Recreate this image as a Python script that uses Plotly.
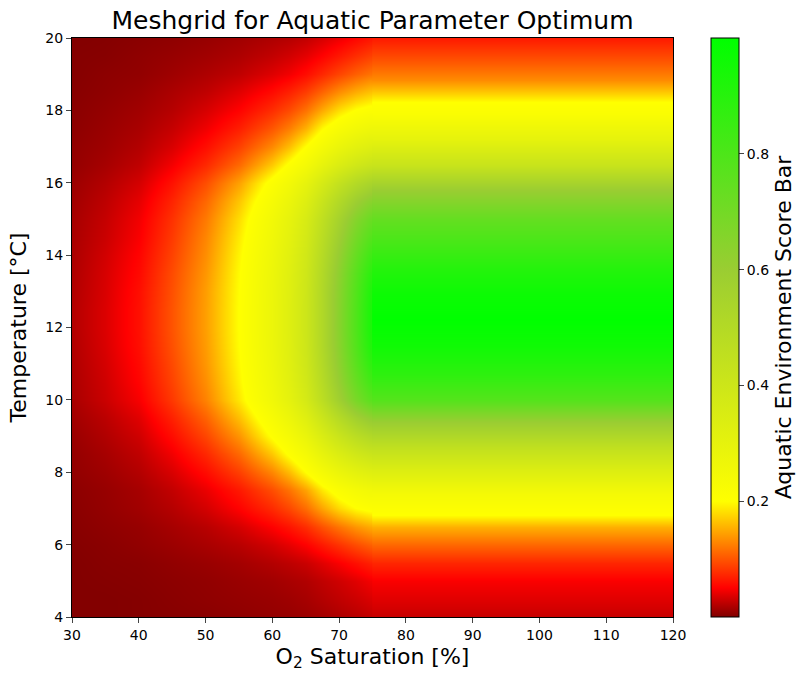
import numpy as np
import plotly.graph_objects as go

# Temperature profile for O2 >= 75 %
t_right = [4, 4.5, 5, 5.5, 6, 6.5, 6.83, 7.4, 8, 8.7, 9.4, 10, 10.7, 11.5, 12.2,
           12.9, 13.6, 14.3, 15, 15.8, 16.5, 17.2, 17.9, 18.23, 18.5, 18.85, 19.3, 20]
score_right = [0.028, 0.038, 0.048, 0.072, 0.11, 0.153, 0.2, 0.24, 0.33, 0.45, 0.6, 0.78,
               0.88, 0.96, 1.0, 0.97, 0.91, 0.82, 0.74, 0.6, 0.42, 0.3, 0.22, 0.2, 0.168,
               0.132, 0.103, 0.065]
o2_right = [75, 75.1, 120]

# Score for O2 < 75 %, in thousandths
o2_left = [30, 35, 40, 45, 50, 55, 60, 62.5, 65, 67.5, 70, 72.5, 74.6]
t_left = [4, 4.5, 5, 5.5, 6, 6.5, 7, 7.5, 8, 8.5, 9, 9.5, 10, 10.5, 11, 11.5, 12,
          12.5, 13, 13.5, 14, 14.5, 15, 15.5, 16, 16.5, 17, 17.5, 18, 18.5, 19, 19.5, 20]
score_left_permille = [
    [1, 1, 2, 3, 4, 6, 8, 9, 11, 14, 18, 22, 26],
    [1, 1, 2, 4, 6, 8, 10, 12, 15, 20, 25, 30, 35],
    [1, 2, 3, 5, 7, 10, 13, 16, 19, 25, 31, 38, 45],
    [1, 3, 4, 7, 10, 14, 20, 24, 29, 38, 48, 59, 68],
    [2, 4, 7, 11, 16, 22, 32, 40, 50, 64, 79, 94, 105],
    [3, 6, 9, 15, 22, 33, 50, 61, 76, 97, 118, 137, 149],
    [4, 8, 13, 21, 33, 51, 75, 92, 115, 147, 178, 200, 210],
    [5, 9, 15, 26, 42, 64, 95, 117, 146, 186, 218, 240, 252],
    [7, 12, 20, 35, 57, 87, 129, 160, 201, 240, 278, 308, 326],
    [8, 15, 25, 45, 73, 111, 167, 205, 242, 293, 343, 386, 410],
    [10, 19, 31, 57, 91, 137, 204, 239, 284, 348, 415, 472, 506],
    [13, 23, 38, 69, 108, 162, 231, 272, 327, 406, 492, 570, 618],
    [16, 29, 47, 83, 127, 186, 257, 304, 370, 467, 577, 686, 760],
    [17, 31, 52, 89, 134, 193, 266, 316, 385, 489, 610, 733, 825],
    [18, 33, 55, 93, 139, 197, 271, 323, 394, 503, 631, 767, 875],
    [19, 35, 58, 97, 142, 200, 275, 327, 400, 512, 644, 788, 912],
    [20, 36, 59, 99, 144, 201, 276, 329, 402, 514, 649, 796, 927],
    [20, 36, 59, 99, 144, 201, 276, 329, 402, 514, 648, 795, 927],
    [19, 35, 58, 97, 143, 200, 275, 327, 400, 512, 644, 788, 913],
    [18, 34, 55, 94, 139, 198, 272, 324, 395, 505, 633, 771, 882],
    [17, 32, 52, 89, 134, 194, 267, 317, 386, 491, 612, 738, 832],
    [16, 29, 48, 84, 129, 188, 259, 307, 374, 473, 585, 698, 776],
    [15, 27, 45, 79, 122, 180, 251, 297, 360, 453, 556, 656, 723],
    [13, 24, 40, 71, 111, 166, 235, 277, 334, 417, 506, 588, 640],
    [11, 20, 33, 60, 96, 145, 213, 249, 298, 366, 438, 501, 539],
    [8, 15, 25, 46, 74, 112, 169, 207, 244, 295, 346, 389, 414],
    [7, 12, 20, 35, 58, 88, 131, 162, 203, 242, 281, 312, 330],
    [5, 10, 16, 27, 44, 67, 100, 123, 154, 196, 227, 250, 263],
    [4, 8, 13, 21, 34, 51, 76, 93, 117, 149, 180, 202, 212],
    [3, 6, 10, 17, 25, 38, 56, 69, 86, 109, 133, 152, 164],
    [2, 5, 7, 12, 18, 25, 37, 45, 57, 73, 90, 106, 117],
    [2, 3, 6, 9, 13, 18, 26, 32, 40, 51, 64, 77, 87],
    [1, 2, 4, 6, 9, 13, 18, 21, 26, 34, 43, 53, 61],
]

z_left = np.array(score_left_permille) / 1000.0
z_right = [[v] * len(o2_right) for v in score_right]

cscale = [[0, 'rgb(128,0,0)'], [0.05, 'rgb(255,0,0)'], [0.2, 'rgb(255,255,0)'],
          [0.6, 'rgb(154,205,50)'], [1, 'rgb(0,255,0)']]

fig = go.Figure()
fig.add_trace(go.Heatmap(x=o2_left, y=t_left, z=z_left, coloraxis='coloraxis', zsmooth='best'))
fig.add_trace(go.Heatmap(x=o2_right, y=t_right, z=z_right, coloraxis='coloraxis', zsmooth='best'))

font = 'DejaVu Sans, sans-serif'
fig.update_layout(
    width=802, height=675,
    margin=dict(l=72, r=129, t=38, b=58, autoexpand=False),
    paper_bgcolor='white', plot_bgcolor='white',
    font=dict(family=font, color='black', size=14),
    title=dict(text='Meshgrid for Aquatic Parameter Optimum', x=372.5 / 802, xanchor='center',
               y=1 - 20 / 675, yanchor='middle', font=dict(size=25)),
    coloraxis=dict(colorscale=cscale, cmin=0, cmax=1,
                   colorbar=dict(x=(711 - 72) / 601, xanchor='left', xpad=0, ypad=0,
                                 y=0.5, len=1, thickness=28, outlinewidth=1, outlinecolor='black',
                                 tickvals=[0.2, 0.4, 0.6, 0.8], ticks='outside', ticklen=5,
                                 tickfont=dict(size=14),
                                 title=dict(text='Aquatic Environment Score Bar', side='right',
                                            font=dict(size=22)))),
    xaxis=dict(range=[30, 120], tickvals=list(range(30, 121, 10)), ticks='outside', ticklen=5,
               showline=True, linecolor='black', mirror=True, showgrid=False, zeroline=False,
               title=dict(text='O<sub>2</sub> Saturation [%]', font=dict(size=22), standoff=6)),
    yaxis=dict(range=[4, 20], tickvals=list(range(4, 21, 2)), ticks='outside', ticklen=5,
               showline=True, linecolor='black', mirror=True, showgrid=False, zeroline=False,
               title=dict(text='Temperature [°C]', font=dict(size=22), standoff=12)),
)
fig.write_html('out.html')
